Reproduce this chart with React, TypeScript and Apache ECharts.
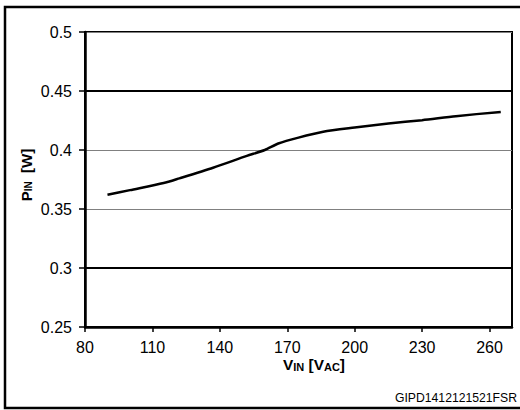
import React, { useEffect, useRef } from "react";
import * as echarts from "echarts";

const vin = [90, 100, 115, 122, 137, 152, 160, 166, 175, 186, 200, 215, 230, 245, 265];
const pin = [0.362, 0.366, 0.372, 0.376, 0.385, 0.395, 0.4, 0.4055, 0.4105, 0.4154, 0.419, 0.4225, 0.4253, 0.4287, 0.4323];
const xTicks = [80, 110, 140, 170, 200, 230, 260];
const blackLines = [0.3, 0.45];
const watermark = "GIPD1412121521FSR";

const FONT = "'Liberation Sans', Arial, sans-serif";

export default function App() {
  const ref = useRef<HTMLDivElement>(null);
  useEffect(() => {
    if (!ref.current) return;
    const chart = echarts.init(ref.current, undefined, { renderer: "svg" });
    const data = vin.map((v, i) => [v, pin[i]]);
    chart.setOption({
      animation: false,
      backgroundColor: "#fff",
      textStyle: { fontFamily: FONT },
      grid: {
        left: 85,
        top: 32,
        right: 8,
        bottom: 83,
        show: true,
        borderColor: "#000",
        borderWidth: 2,
        backgroundColor: "transparent",
      },
      xAxis: {
        type: "value",
        min: 80,
        max: 270,
        interval: 30,
        axisLine: { show: true, onZero: false, lineStyle: { color: "#000", width: 2.5 } },
        axisTick: { show: true, length: 5, customValues: xTicks, lineStyle: { color: "#000", width: 1.5 } },
        axisLabel: { customValues: xTicks, margin: 12, color: "#000", fontSize: 16, fontFamily: FONT },
        splitLine: { show: false },
      },
      yAxis: {
        type: "value",
        min: 0.25,
        max: 0.5,
        interval: 0.05,
        axisLine: { show: true, onZero: false, lineStyle: { color: "#000", width: 2.5 } },
        axisTick: { show: true, length: 6, lineStyle: { color: "#000", width: 1.5 } },
        axisLabel: { margin: 13, color: "#000", fontSize: 16, fontFamily: FONT },
        splitLine: { show: true, lineStyle: { color: "#808080", width: 1 } },
      },
      series: [
        {
          type: "line",
          data,
          smooth: 0.25,
          showSymbol: false,
          lineStyle: { color: "#000", width: 2.5 },
          markLine: {
            silent: true,
            symbol: "none",
            label: { show: false },
            lineStyle: { color: "#000", width: 2, type: "solid" },
            data: blackLines.map((v) => ({ yAxis: v })),
          },
        },
      ],
      graphic: [
        {
          type: "rect",
          shape: { x: 5, y: 7, width: 525, height: 401 },
          style: { fill: "none", stroke: "#000", lineWidth: 2.5 },
          silent: true,
        },
        {
          type: "text",
          x: 283,
          y: 364,
          scaleX: 1.1,
          style: {
            text: "{b|V}{s|IN}{b| [V}{s|AC}{b|]}",
            verticalAlign: "middle",
            align: "left",
            rich: {
              b: { fontSize: 14, fontWeight: "bold", fontFamily: FONT, lineHeight: 16, verticalAlign: "bottom", fill: "#000" },
              s: { fontSize: 10, fontWeight: "bold", fontFamily: FONT, lineHeight: 9, verticalAlign: "bottom", fill: "#000" },
            },
          },
        },
        {
          type: "text",
          x: 25,
          y: 175,
          rotation: Math.PI / 2,
          style: {
            text: "{b|P}{s|IN}{b|  [W]}",
            verticalAlign: "middle",
            align: "center",
            rich: {
              b: { fontSize: 15, fontWeight: "bold", fontFamily: FONT, lineHeight: 17, verticalAlign: "bottom", fill: "#000" },
              s: { fontSize: 10, fontWeight: "bold", fontFamily: FONT, lineHeight: 9, verticalAlign: "bottom", fill: "#000" },
            },
          },
        },
        {
          type: "text",
          x: 395,
          y: 398,
          style: {
            text: watermark,
            fontSize: 12.2,
            fontFamily: FONT,
            fill: "#000",
            verticalAlign: "middle",
            align: "left",
          },
        },
      ],
    });
    return () => chart.dispose();
  }, []);
  return (
    <div
      ref={ref}
      style={{ position: "fixed", left: 0, top: 0, width: 520, height: 410 }}
    />
  );
}
